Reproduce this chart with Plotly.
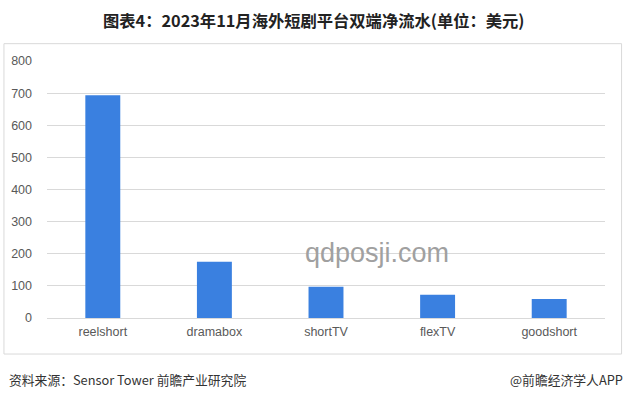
import plotly.graph_objects as go

categories = ["reelshort", "dramabox", "shortTV", "flexTV", "goodshort"]
values = [693, 175, 97, 72, 59]
y_ticks = [0, 100, 200, 300, 400, 500, 600, 700, 800]

W, H = 627, 398
L, R, T, B = 46.6, 21.6, 61.3, 80
PW, PH = W - L - R, H - T - B

def px(x):
    return (x - L) / PW

def py(y):
    return (H - B - y) / PH

fig = go.Figure(go.Bar(
    x=categories, y=values,
    marker=dict(color="#3a80e0", line=dict(width=0)),
    width=0.313,
))

font_cjk = "Noto Sans CJK SC, Microsoft YaHei, sans-serif"

fig.update_layout(
    width=W, height=H,
    margin=dict(l=L, r=R, t=T, b=B),
    paper_bgcolor="white", plot_bgcolor="white",
    showlegend=False,
    font=dict(family="Noto Sans CJK SC, Liberation Sans, sans-serif", size=12, color="#595959"),
    xaxis=dict(showgrid=False, showline=False, ticks="", ticklabelstandoff=4,
               tickfont=dict(size=12.5, color="#595959", family="Liberation Sans, Arial, sans-serif")),
    yaxis=dict(range=[0, 800], tickvals=y_ticks, showgrid=True, gridcolor="#d9d9d9", gridwidth=1,
               zeroline=True, zerolinecolor="#d9d9d9", zerolinewidth=1,
               showline=False, ticks="", ticklabelstandoff=14,
               tickfont=dict(size=12.5, color="#595959", family="Liberation Sans, Arial, sans-serif")),
    bargap=0.687,
)

fig.add_shape(type="rect", xref="paper", yref="paper",
              x0=px(3.5), x1=px(622), y0=py(354), y1=py(44),
              line=dict(color="#d9d9d9", width=1), fillcolor="rgba(0,0,0,0)", layer="below")

fig.add_annotation(text="<b>图表4：2023年11月海外短剧平台双端净流水(单位：美元)</b>",
                   xref="paper", yref="paper", x=px(313), y=py(20.5), showarrow=False,
                   xanchor="center", yanchor="middle",
                   font=dict(family=font_cjk, size=16.3, color="#222222"))

fig.add_annotation(text="资料来源：Sensor Tower 前瞻产业研究院",
                   xref="paper", yref="paper", x=px(7), y=py(379), showarrow=False,
                   xanchor="left", yanchor="middle",
                   font=dict(family=font_cjk, size=12.8, color="#333333"))

fig.add_annotation(text="@前瞻经济学人APP",
                   xref="paper", yref="paper", x=px(625), y=py(379), showarrow=False,
                   xanchor="right", yanchor="middle",
                   font=dict(family=font_cjk, size=12.8, color="#333333"))

fig.add_annotation(text="qdposji.com",
                   xref="paper", yref="paper", x=px(377), y=py(253), showarrow=False,
                   xanchor="center", yanchor="middle",
                   font=dict(family="Liberation Sans, Arial, sans-serif", size=27, color="#a0a0a0"))

fig.write_html("out.html", config={"displayModeBar": False},
               post_script="document.body.style.margin='0';document.body.style.padding='0';")
